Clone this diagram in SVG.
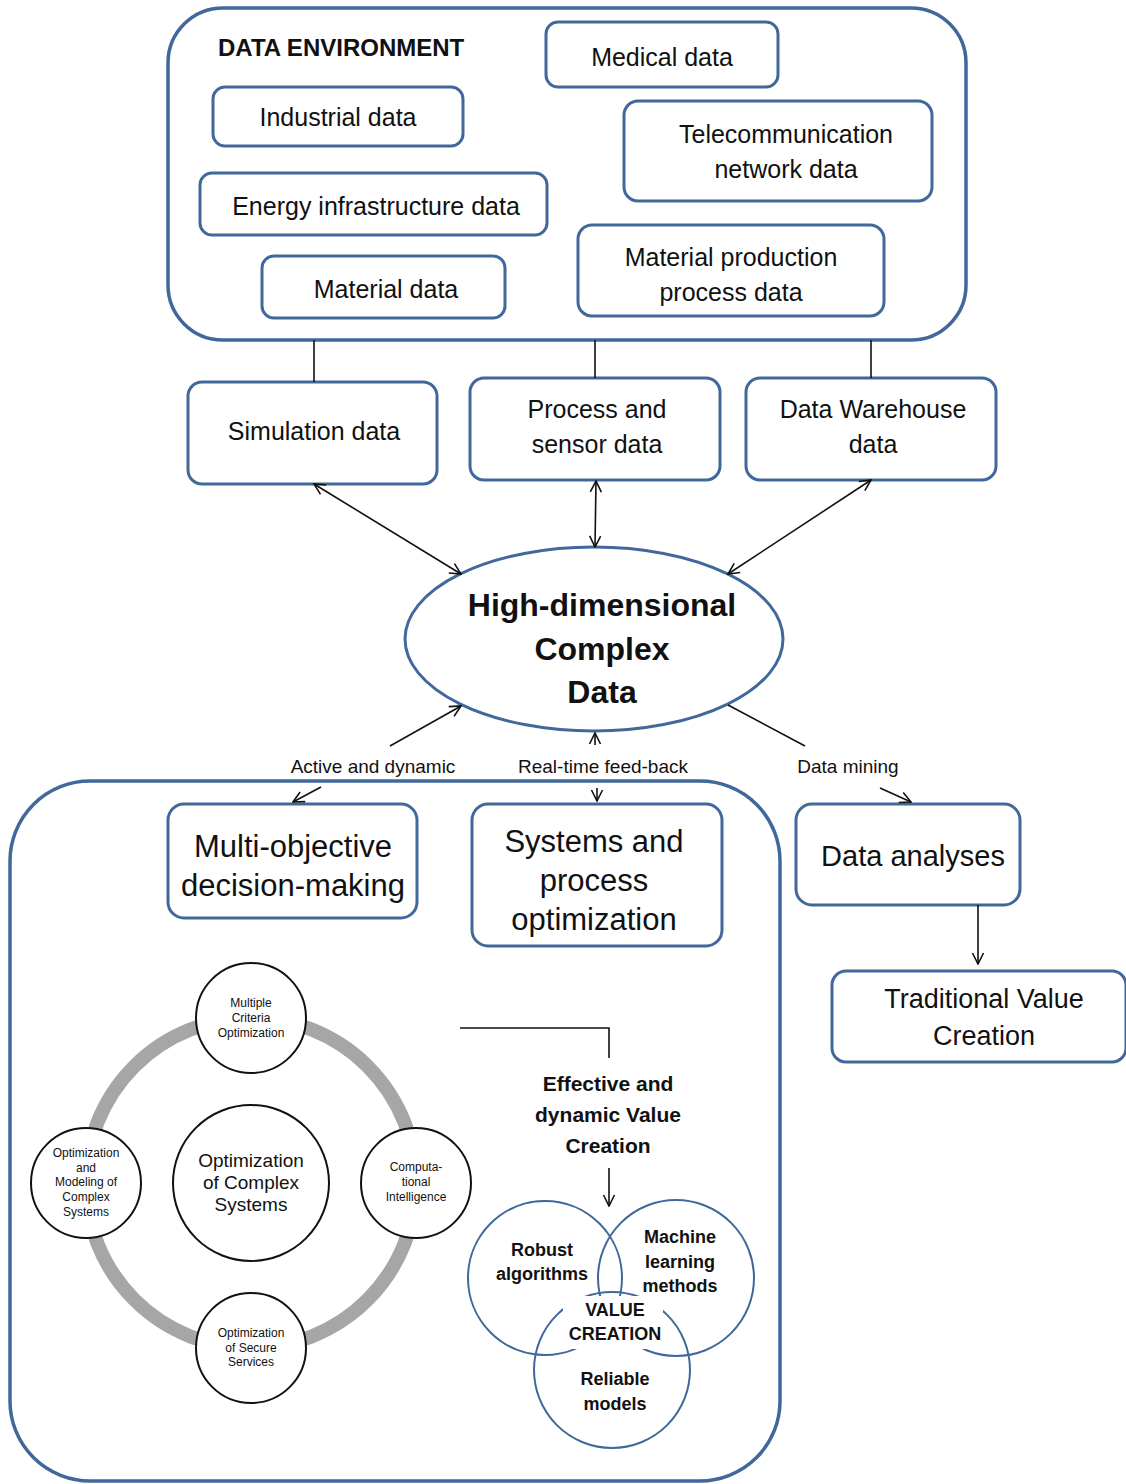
<svg xmlns="http://www.w3.org/2000/svg" width="1126" height="1484" viewBox="0 0 1126 1484">
<defs>
<style>
.box{fill:#fff;stroke:#41689b;stroke-width:3}
.cont{fill:none;stroke:#41689b;stroke-width:3.5}
.t{font-family:"Liberation Sans",Arial,sans-serif;fill:#111;text-anchor:middle}
.b{font-weight:bold}
.ln{fill:none;stroke:#111;stroke-width:1.6}
.circ{fill:#fff;stroke:#111;stroke-width:2}
.venn{fill:none;stroke:#41689b;stroke-width:2}
</style>
<marker id="ah" viewBox="0 0 14 14" refX="13" refY="7" markerWidth="14" markerHeight="14" markerUnits="userSpaceOnUse" orient="auto-start-reverse">
<path d="M2,1.5 L13,7 L2,12.5" fill="none" stroke="#111" stroke-width="1.6"/>
</marker>
</defs>

<g id="data-environment">
<rect class="cont" x="168" y="8" width="798" height="332" rx="55"/>
<text class="t b" x="218" y="56" font-size="24" style="text-anchor:start">DATA ENVIRONMENT</text>
</g>
<g id="medical"><rect class="box" x="546" y="22" width="232" height="65" rx="12"/><text class="t" x="662" y="66" font-size="25">Medical data</text></g>
<g id="industrial"><rect class="box" x="213" y="87" width="250" height="59" rx="12"/><text class="t" x="338" y="126" font-size="25">Industrial data</text></g>
<g id="telecom"><rect class="box" x="624" y="101" width="308" height="100" rx="14"/><text class="t" x="786" y="143" font-size="25">Telecommunication</text><text class="t" x="786" y="178" font-size="25">network data</text></g>
<g id="energy"><rect class="box" x="200" y="173" width="347" height="62" rx="12"/><text class="t" x="376" y="215" font-size="25">Energy infrastructure data</text></g>
<g id="material"><rect class="box" x="262" y="256" width="243" height="62" rx="12"/><text class="t" x="386" y="298" font-size="25">Material data</text></g>
<g id="material-production"><rect class="box" x="578" y="225" width="306" height="91" rx="14"/><text class="t" x="731" y="266" font-size="25">Material production</text><text class="t" x="731" y="301" font-size="25">process data</text></g>

<g id="simulation"><rect class="box" x="188" y="382" width="249" height="102" rx="14"/><text class="t" x="314" y="440" font-size="25">Simulation data</text></g>
<g id="process-sensor"><rect class="box" x="470" y="378" width="250" height="102" rx="14"/><text class="t" x="597" y="418" font-size="25">Process and</text><text class="t" x="597" y="453" font-size="25">sensor data</text></g>
<g id="warehouse"><rect class="box" x="746" y="378" width="250" height="102" rx="14"/><text class="t" x="873" y="418" font-size="25">Data Warehouse</text><text class="t" x="873" y="453" font-size="25">data</text></g>

<g id="high-dim">
<ellipse cx="594" cy="639" rx="189" ry="92" fill="#fff" stroke="#41689b" stroke-width="3"/>
<text class="t b" x="602" y="616" font-size="32">High-dimensional</text>
<text class="t b" x="602" y="660" font-size="32">Complex</text>
<text class="t b" x="602" y="703" font-size="32">Data</text>
</g>

<g id="value-container">
<rect class="cont" x="10" y="781" width="770" height="700" rx="80"/>
</g>
<g id="multi-objective"><rect class="box" x="168" y="804" width="249" height="114" rx="16"/><text class="t" x="293" y="857" font-size="31">Multi-objective</text><text class="t" x="293" y="896" font-size="31">decision-making</text></g>
<g id="systems-process"><rect class="box" x="472" y="804" width="250" height="142" rx="16"/><text class="t" x="594" y="852" font-size="31">Systems and</text><text class="t" x="594" y="891" font-size="31">process</text><text class="t" x="594" y="930" font-size="31">optimization</text></g>
<g id="data-analyses"><rect class="box" x="796" y="804" width="224" height="101" rx="16"/><text class="t" x="913" y="866" font-size="29">Data analyses</text></g>
<g id="traditional"><rect class="box" x="832" y="971" width="294" height="91" rx="14"/><text class="t" x="984" y="1008" font-size="27">Traditional Value</text><text class="t" x="984" y="1045" font-size="27">Creation</text></g>

<g id="optimization-cycle">
<circle cx="251" cy="1183" r="165" fill="none" stroke="#a6a6a6" stroke-width="14"/>
<g id="center-circle"><circle class="circ" cx="251" cy="1183" r="78"/>
<text class="t" x="251" y="1167" font-size="19">Optimization</text><text class="t" x="251" y="1189" font-size="19">of Complex</text><text class="t" x="251" y="1211" font-size="19">Systems</text></g>
<g id="mco"><circle class="circ" cx="251" cy="1018" r="55"/>
<text class="t" x="251" y="1007" font-size="12">Multiple</text><text class="t" x="251" y="1022" font-size="12">Criteria</text><text class="t" x="251" y="1037" font-size="12">Optimization</text></g>
<g id="omcs"><circle class="circ" cx="86" cy="1183" r="55"/>
<text class="t" x="86" y="1157" font-size="12">Optimization</text><text class="t" x="86" y="1172" font-size="12">and</text><text class="t" x="86" y="1186" font-size="12">Modeling of</text><text class="t" x="86" y="1201" font-size="12">Complex</text><text class="t" x="86" y="1216" font-size="12">Systems</text></g>
<g id="ci"><circle class="circ" cx="416" cy="1183" r="55"/>
<text class="t" x="416" y="1171" font-size="12">Computa-</text><text class="t" x="416" y="1186" font-size="12">tional</text><text class="t" x="416" y="1201" font-size="12">Intelligence</text></g>
<g id="oss"><circle class="circ" cx="251" cy="1348" r="55"/>
<text class="t" x="251" y="1337" font-size="12">Optimization</text><text class="t" x="251" y="1352" font-size="12">of Secure</text><text class="t" x="251" y="1366" font-size="12">Services</text></g>
</g>

<g id="effective-value">
<text class="t b" x="608" y="1091" font-size="21">Effective and</text>
<text class="t b" x="608" y="1122" font-size="21">dynamic Value</text>
<text class="t b" x="608" y="1153" font-size="21">Creation</text>
</g>

<g id="venn">
<circle class="venn" cx="545" cy="1278" r="77"/>
<circle class="venn" cx="676" cy="1278" r="78"/>
<circle class="venn" cx="612" cy="1370" r="78"/>
<rect x="563" y="1296" width="100" height="53" fill="#fff"/>
<text class="t b" x="542" y="1256" font-size="18">Robust</text>
<text class="t b" x="542" y="1280" font-size="18">algorithms</text>
<text class="t b" x="680" y="1243" font-size="18">Machine</text>
<text class="t b" x="680" y="1268" font-size="18">learning</text>
<text class="t b" x="680" y="1292" font-size="18">methods</text>
<text class="t b" x="615" y="1316" font-size="18">VALUE</text>
<text class="t b" x="615" y="1340" font-size="18">CREATION</text>
<text class="t b" x="615" y="1385" font-size="18">Reliable</text>
<text class="t b" x="615" y="1410" font-size="18">models</text>
</g>

<g id="connectors">
<line class="ln" x1="314" y1="340" x2="314" y2="382"/>
<line class="ln" x1="595" y1="340" x2="595" y2="378"/>
<line class="ln" x1="871" y1="340" x2="871" y2="378"/>
<line class="ln" x1="314" y1="484" x2="461" y2="574" marker-start="url(#ah)" marker-end="url(#ah)"/>
<line class="ln" x1="596" y1="481" x2="595" y2="547" marker-start="url(#ah)" marker-end="url(#ah)"/>
<line class="ln" x1="871" y1="480" x2="728" y2="574" marker-start="url(#ah)" marker-end="url(#ah)"/>
<line class="ln" x1="390" y1="746" x2="461" y2="706" marker-end="url(#ah)"/>
<line class="ln" x1="321" y1="787" x2="293" y2="802" marker-end="url(#ah)"/>
<line class="ln" x1="595" y1="745" x2="595" y2="733" marker-end="url(#ah)"/>
<line class="ln" x1="597" y1="788" x2="597" y2="801" marker-end="url(#ah)"/>
<line class="ln" x1="728" y1="705" x2="805" y2="746"/>
<line class="ln" x1="880" y1="788" x2="911" y2="802" marker-end="url(#ah)"/>
<line class="ln" x1="978" y1="905" x2="978" y2="964" marker-end="url(#ah)"/>
<polyline class="ln" points="460,1028 609,1028 609,1058" stroke-width="2"/>
<line class="ln" x1="609" y1="1168" x2="609" y2="1206" stroke-width="2" marker-end="url(#ah)"/>
<text class="t" x="373" y="773" font-size="19">Active and dynamic</text>
<text class="t" x="603" y="773" font-size="19">Real-time feed-back</text>
<text class="t" x="848" y="773" font-size="19">Data mining</text>
</g>
</svg>
